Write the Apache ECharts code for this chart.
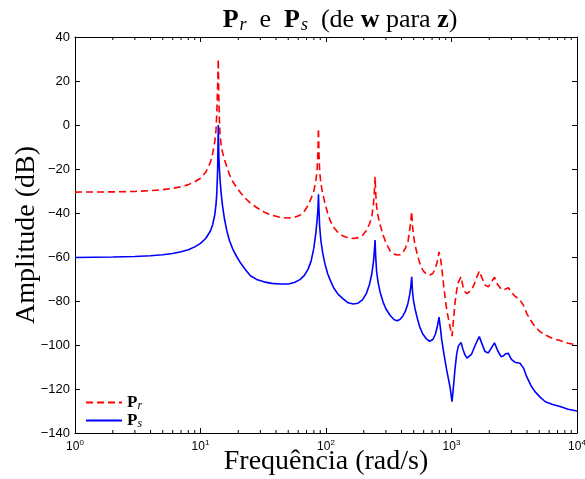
<!DOCTYPE html>
<html>
<head>
<meta charset="utf-8">
<script src="https://cdn.jsdelivr.net/npm/echarts@6/dist/echarts.min.js"></script>
<style>
  html, body { margin: 0; padding: 0; background: #fff; }
  #chart { width: 585px; height: 479px; }
</style>
</head>
<body>
<div id="chart"></div>
<script>
// frequências (rad/s)
const freq = [1, 2, 3, 4, 5, 6, 7, 8, 9, 10, 11, 12, 12.5, 13, 13.3, 13.5, 13.7, 13.86,
  14.0, 14.15, 14.3, 14.6, 15, 15.5, 16.2, 17, 18.2, 19.5, 21, 23, 25, 28, 32, 37, 43, 50, 56, 62, 67, 72, 76, 80, 83, 85, 86.3, 87.1,
  87.8, 89, 91, 94, 98, 103, 108, 115, 125, 137, 150, 165, 180, 195, 210, 222, 232, 239, 243, 246,
  249, 253, 260, 270, 285, 300, 325, 350, 370, 390, 410, 430, 450, 465, 475, 482,
  488, 497, 512, 535, 560, 590, 630, 670, 710, 745, 775, 795,
  815, 836, 870, 916, 973, 1010, 1040, 1066, 1100, 1133, 1190, 1235, 1281, 1330, 1378, 1440, 1510, 1590, 1666,
  1750, 1850, 1965, 2070, 2200, 2330, 2480, 2586, 2700, 2838, 3000, 3200, 3513, 3750, 3972, 4300, 4627, 5100, 5600, 6400, 7328, 8500, 10000];

// Pr (dB)
const pr = [-30.5, -30.4, -30.2, -29.8, -29.4, -28.8, -28.0, -27.1, -25.8, -24.2, -21.5, -17, -13, -7.5, -2, 6, 18, 30,
  12, 2, -4, -9, -12.5, -15.5, -19, -22.5, -26, -28.5, -31, -33.5, -35.5, -37.5, -39.5, -41, -42, -42.3, -42, -41, -39.3, -36.5, -33.5, -30, -25.5, -20, -12, -1.5,
  -12, -21, -26.5, -31, -35.5, -40, -43.5, -46.5, -49, -50.5, -51.3, -51.6, -51.2, -50.2, -48, -45, -41.5, -36, -30, -23.5,
  -31, -37, -41.5, -45.5, -50, -53.5, -57.3, -58.7, -59.1, -59, -58, -55.8, -53, -47.5, -43, -39.4,
  -45, -50, -54.5, -59, -63, -66, -67.8, -68.2, -67.5, -65, -61.5, -57.7,
  -60, -65, -74, -84, -91.7, -96, -88, -81, -75, -71.5, -69, -73.5, -75.8, -76.6, -76.4, -75, -72.7, -69.2, -66.4,
  -69.5, -72.7, -73.6, -71.5, -69.2, -72.5, -74.5, -75, -74.5, -74, -76, -77.8, -79.5, -82, -85.6, -89, -91.7, -94, -95.5, -97, -98, -99.2, -100];

// Ps (dB)
const ps = [-60.2, -60.0, -59.8, -59.4, -59.0, -58.4, -57.6, -56.7, -55.4, -53.8, -51.6, -48.2, -45.3, -40.8, -36, -30.5, -20, 0,
  -14, -20, -24.5, -31, -37, -42.5, -48, -52.5, -56.8, -60, -63, -66, -68.5, -70.2, -71.3, -72, -72.3, -72.3, -71.6, -70.3, -68.5, -65.5, -62, -56, -49, -43, -38, -31.5,
  -38, -46, -52.5, -58, -63, -67.5, -70.5, -74, -77, -79, -80.8, -81.4, -81, -79.5, -76.5, -72.5, -67.5, -62, -57, -52.3,
  -60, -66.5, -71.5, -76, -80.5, -83.5, -86.6, -88.5, -89, -88.3, -86.8, -84.5, -81, -77, -73, -69,
  -75, -79.5, -83.5, -88, -92, -95, -97.2, -98.3, -97.5, -95, -91, -87.3,
  -92, -97.7, -104, -111.4, -119, -125.8, -118, -111, -104, -100.5, -98.8, -102, -104.5, -106, -106.3, -104.3, -101.5, -98.5, -96.2,
  -99.5, -103, -103.6, -101.5, -99, -102.5, -105.3, -105, -104, -103.8, -106.5, -107.8, -108.3, -110.5, -114.4, -118.5, -121.2, -123.8, -125.8, -127, -128, -129.2, -130];

// ticks menores do eixo log (2..9 em cada década)
const minorTicks = [];
[1, 10, 100, 1000].forEach(d => {
  for (let k = 2; k <= 9; k++) minorTicks.push([k * d, -140]);
});

const serif = 'Liberation Serif';
const sans = 'Liberation Sans';

const chart = echarts.init(document.getElementById('chart'));

const tickStyle = { inside: true, length: 5, lineStyle: { color: '#000', width: 1 } };
const lineStyleAxis = { onZero: false, lineStyle: { color: '#000', width: 1 } };

chart.setOption({
  animation: false,
  backgroundColor: '#fff',
  title: {
    text: '{b|P}{sub|r}{n|  e  }{b|P}{sub|s}{n|  (de }{b|w}{n| para }{b|z}{n|)}',
    left: 335,
    top: 1,
    textAlign: 'center',
    textStyle: {
      fontWeight: 'normal',
      rich: {
        b: { fontFamily: serif, fontWeight: 'bold', fontSize: 26, color: '#000' },
        n: { fontFamily: serif, fontWeight: 'normal', fontSize: 26, color: '#000' },
        sub: { fontFamily: serif, fontWeight: 'normal', fontStyle: 'italic', fontSize: 18, color: '#000', verticalAlign: 'bottom', padding: [10, 0, 0, 1] }
      }
    }
  },
  grid: { left: 75, right: 8, top: 37, bottom: 46, outerBoundsMode: 'none' },
  legend: {
    data: ['Pr', 'Ps'],
    orient: 'vertical',
    left: 80,
    top: 389,
    itemGap: 0,
    itemWidth: 36,
    itemHeight: 12,
    itemStyle: { opacity: 0 },
    formatter: name => '{b|P}{sub|' + name.slice(1) + '}',
    textStyle: {
      rich: {
        b: { fontFamily: serif, fontWeight: 'bold', fontSize: 17, color: '#000' },
        sub: { fontFamily: serif, fontStyle: 'italic', fontSize: 12, color: '#000', verticalAlign: 'bottom', padding: [7, 0, 0, 0] }
      }
    }
  },
  xAxis: [{
    type: 'log',
    logBase: 10,
    min: 1,
    max: 10000,
    position: 'bottom',
    name: 'Frequência (rad/s)',
    nameLocation: 'middle',
    nameMoveOverlap: false,
    nameGap: 15,
    nameTextStyle: { fontFamily: serif, fontSize: 28, color: '#000' },
    axisLine: lineStyleAxis,
    axisTick: tickStyle,
    splitLine: { show: false },
    axisLabel: {
      margin: 6,
      formatter: v => '{b|10}{sup|' + Math.round(Math.log10(v)) + '}',
      rich: {
        b: { fontFamily: sans, fontSize: 12, color: '#000' },
        sup: { fontFamily: sans, fontSize: 8, color: '#000', verticalAlign: 'top', padding: [0, 0, 8, 0] }
      }
    }
  }, {
    type: 'log',
    logBase: 10,
    min: 1,
    max: 10000,
    position: 'top',
    axisLine: lineStyleAxis,
    axisTick: tickStyle,
    axisLabel: { show: false },
    splitLine: { show: false }
  }],
  yAxis: [{
    type: 'value',
    min: -140,
    max: 40,
    interval: 20,
    name: 'Amplitude (dB)',
    nameLocation: 'middle',
    nameMoveOverlap: false,
    nameGap: 34,
    nameTextStyle: { fontFamily: serif, fontSize: 28, color: '#000' },
    axisLine: lineStyleAxis,
    axisTick: tickStyle,
    splitLine: { show: false },
    axisLabel: {
      margin: 5,
      fontFamily: sans,
      fontSize: 13,
      color: '#000',
      formatter: v => String(v).replace('-', '\u2212')
    }
  }, {
    type: 'value',
    min: -140,
    max: 40,
    interval: 20,
    position: 'right',
    axisLine: lineStyleAxis,
    axisTick: tickStyle,
    axisLabel: { show: false },
    splitLine: { show: false }
  }],
  series: [{
    name: 'Pr',
    type: 'line',
    data: freq.map((f, i) => [f, pr[i]]),
    symbol: 'none',
    lineStyle: { color: '#ff0000', width: 1.6, type: [7, 4] },
    itemStyle: { color: '#ff0000' }
  }, {
    name: 'Ps',
    type: 'line',
    data: freq.map((f, i) => [f, ps[i]]),
    symbol: 'none',
    lineStyle: { color: '#0000ff', width: 1.6 },
    itemStyle: { color: '#0000ff' }
  }, {
    type: 'custom',
    silent: true,
    clip: false,
    data: minorTicks,
    renderItem: (params, api) => {
      const b = api.coord([api.value(0), -140]);
      const t = api.coord([api.value(0), 40]);
      const st = { stroke: '#000', lineWidth: 1 };
      return {
        type: 'group',
        children: [
          { type: 'line', shape: { x1: b[0], y1: b[1], x2: b[0], y2: b[1] - 3 }, style: st },
          { type: 'line', shape: { x1: t[0], y1: t[1], x2: t[0], y2: t[1] + 3 }, style: st }
        ]
      };
    }
  }]
});
</script>
</body>
</html>
